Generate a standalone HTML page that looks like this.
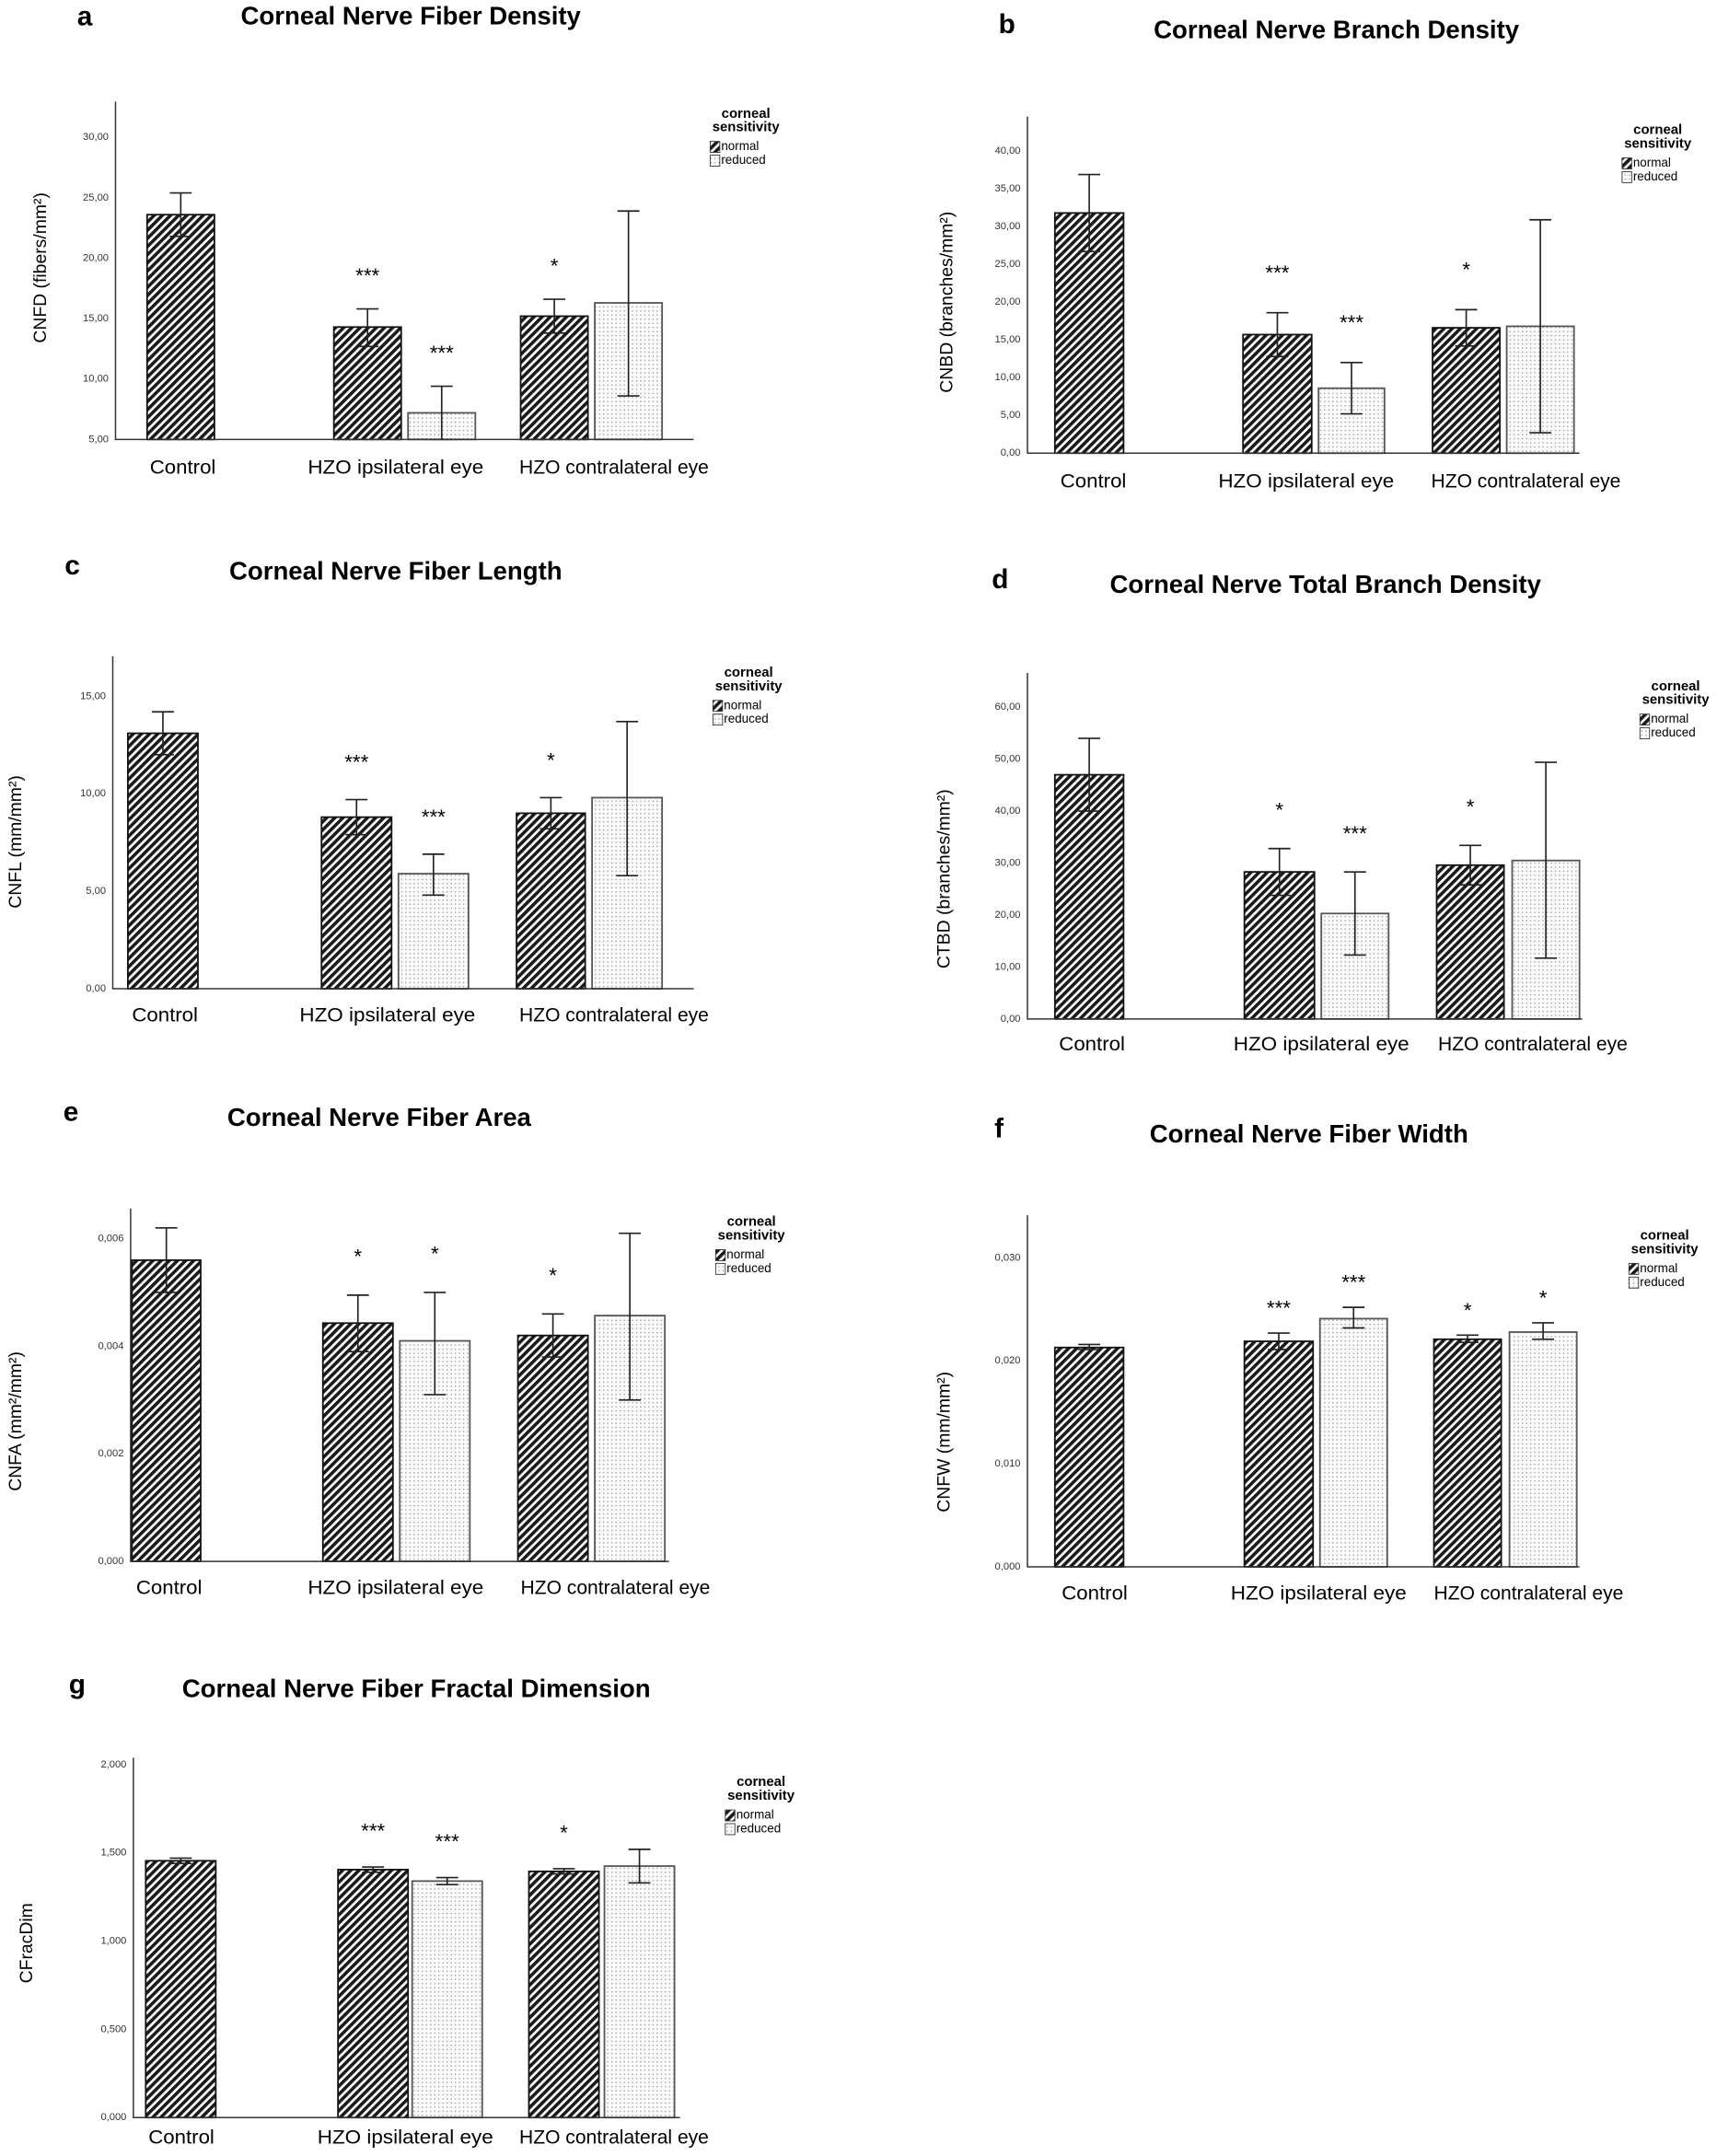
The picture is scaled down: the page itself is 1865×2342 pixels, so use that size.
<!DOCTYPE html>
<html><head><meta charset="utf-8"><style>
html,body{margin:0;padding:0;background:#fff}
svg{display:block}
text{font-family:"Liberation Sans",sans-serif}
</style></head><body>
<svg id="fig" width="1865" height="2342" viewBox="0 0 1250 1570" xmlns="http://www.w3.org/2000/svg">
<defs>
<pattern id="hatch" patternUnits="userSpaceOnUse" width="4.2" height="4.2" patternTransform="rotate(45)">
<rect width="4.2" height="4.2" fill="#fff"/><rect width="2.4" height="4.2" fill="#1a1a1a"/></pattern>
<pattern id="dots" patternUnits="userSpaceOnUse" width="3" height="3">
<rect width="3" height="3" fill="#fbfbfb"/><rect x="1" y="1" width="0.9" height="0.9" fill="#999"/></pattern>
</defs>
</svg>
<script>
const panelLetters=["a","b","c","d","e","f","g"];
const panelTitles=["Corneal Nerve Fiber Density","Corneal Nerve Branch Density","Corneal Nerve Fiber Length","Corneal Nerve Total Branch Density","Corneal Nerve Fiber Area","Corneal Nerve Fiber Width","Corneal Nerve Fiber Fractal Dimension"];
const yTitles=["CNFD (fibers/mm²)","CNBD (branches/mm²)","CNFL (mm/mm²)","CTBD (branches/mm²)","CNFA (mm²/mm²)","CNFW (mm/mm²)","CFracDim"];
const categories=["Control","HZO ipsilateral eye","HZO contralateral eye"];
const seriesNames=["normal","reduced"];
const meanA=[23.6,14.3,7.2,15.2,16.3], hiA=[25.4,15.8,9.4,16.6,23.9], loA=[21.8,12.7,5.0,13.8,8.6];
const meanB=[31.8,15.7,8.6,16.6,16.8], hiB=[36.9,18.6,12.0,19.0,30.9], loB=[26.7,12.8,5.2,14.2,2.7];
const meanC=[13.1,8.8,5.9,9.0,9.8], hiC=[14.2,9.7,6.9,9.8,13.7], loC=[12.0,7.9,4.8,8.2,5.8];
const meanD=[47.0,28.3,20.3,29.6,30.5], hiD=[54.0,32.8,28.3,33.4,49.4], loD=[40.0,23.8,12.3,25.8,11.7];
const meanE=[0.0056,0.00443,0.0041,0.0042,0.00457], hiE=[0.0062,0.00495,0.0050,0.0046,0.0061], loE=[0.0050,0.0039,0.0031,0.0038,0.0030];
const meanF=[0.0213,0.0219,0.0241,0.0221,0.0228], hiF=[0.0216,0.0227,0.0252,0.0225,0.0237], loF=[0.0211,0.0211,0.0232,0.0218,0.0221];
const meanG=[1.455,1.405,1.34,1.395,1.425], hiG=[1.47,1.42,1.36,1.41,1.52], loG=[1.44,1.39,1.32,1.38,1.33];
const starsA=["","***","***","*",""], starsB=["","***","***","*",""], starsC=["","***","***","*",""], starsD=["","*","***","*",""];
const starsE=["","*","*","*",""], starsF=["","***","***","*","*"], starsG=["","***","***","*",""];
const ticksA=[5,10,15,20,25,30], ticksB=[0,5,10,15,20,25,30,35,40], ticksC=[0,5,10,15], ticksD=[0,10,20,30,40,50,60];
const ticksE=[0,0.002,0.004,0.006], ticksF=[0,0.01,0.02,0.03], ticksG=[0,0.5,1,1.5,2];
const decimals=[2,2,2,2,3,3,3];
const means=[meanA,meanB,meanC,meanD,meanE,meanF,meanG];
const his=[hiA,hiB,hiC,hiD,hiE,hiF,hiG];
const los=[loA,loB,loC,loD,loE,loF,loG];
const stars=[starsA,starsB,starsC,starsD,starsE,starsF,starsG];
const ticks=[ticksA,ticksB,ticksC,ticksD,ticksE,ticksF,ticksG];

const L=[
 {ax:84,top:74,base:320,xend:505,t0:100,bars:[[107,156],[243,292],[297,346],[379,428],[433,482]],lab:341,leg:[511,83],tt:[299,13],lt:[56,13],yt:[30,195],so:23,cat:[133,288,447]},
 {ax:748,top:85,base:330,xend:1150,t0:110,bars:[[768,818],[905,955],[960,1008],[1043,1092],[1097,1146]],lab:351,leg:[1175,95],tt:[973,23],lt:[727,19],yt:[690,220],so:28,cat:[796,951,1111]},
 {ax:82,top:478,base:720,xend:505,t0:507,bars:[[93,144],[234,285],[290,341],[376,426],[431,482]],lab:740,leg:[513,490],tt:[288,417],lt:[47,413],yt:[12,613],so:26,cat:[120,282,447]},
 {ax:748,top:490,base:742,xend:1152,t0:515,bars:[[768,818],[906,957],[962,1011],[1046,1095],[1101,1150]],lab:761,leg:[1188,500],tt:[965,427],lt:[722,423],yt:[688,640],so:27,cat:[795,962,1116]},
 {ax:95,top:880,base:1137,xend:487,t0:902,bars:[[96,146],[235,286],[291,342],[377,428],[433,484]],lab:1157,leg:[515,890],tt:[276,815],lt:[46,811],yt:[12,1035],so:27,cat:[123,288,448]},
 {ax:748,top:885,base:1141,xend:1150,t0:916,bars:[[768,818],[906,956],[961,1010],[1044,1093],[1099,1148]],lab:1161,leg:[1180,900],tt:[953,827],lt:[724,823],yt:[688,1050],so:17,cat:[797,960,1113]},
 {ax:97,top:1280,base:1542,xend:495,t0:1285,bars:[[106,157],[246,297],[300,351],[385,436],[440,491]],lab:1557,leg:[522,1298],tt:[303,1231],lt:[50,1228],yt:[20,1415],so:25,cat:[132,295,447]}
];
const NS="http://www.w3.org/2000/svg";
const svg=document.getElementById('fig');
function mk(tag,attrs,parent,txt){const e=document.createElementNS(NS,tag);for(const k in attrs)e.setAttribute(k,attrs[k]);if(txt!==undefined)e.textContent=txt;parent.appendChild(e);return e;}
function fmt(v,d){return v.toFixed(d).replace('.',',');}

for(let p=0;p<7;p++){
 const c=L[p];
 const g=mk('g',{},svg);
 
 
 const tk=ticks[p], tmin=tk[0], tmax=tk[tk.length-1];
 const y=v=>c.base-(v-tmin)/(tmax-tmin)*(c.base-c.t0);
 let t=mk('text',{x:c.lt[0],y:c.lt[1],'font-size':20,'font-weight':'bold','dominant-baseline':'middle'},g,panelLetters[p]);
 
 t=mk('text',{x:c.tt[0],y:c.tt[1],'font-size':18.5,'font-weight':'bold','text-anchor':'middle','dominant-baseline':'middle'},g,panelTitles[p]);
 
 t=mk('text',{x:c.yt[0],y:c.yt[1],'font-size':13,'text-anchor':'middle','dominant-baseline':'middle',transform:`rotate(-90 ${c.yt[0]} ${c.yt[1]})`},g,yTitles[p]);
 
 tk.forEach(v=>{
  const tl=mk('text',{x:c.ax-5,y:y(v),'font-size':7.5,'text-anchor':'end','dominant-baseline':'middle',fill:'#333'},g,fmt(v,decimals[p]));
  
 });
 const m=means[p],h=his[p],lo=los[p],s=stars[p];
 for(let i=0;i<5;i++){
  const [x0,x1]=c.bars[i];const red=(i===2||i===4);
  const r=mk('rect',{x:x0,y:y(m[i]),width:x1-x0,height:c.base-y(m[i]),fill:red?'url(#dots)':'url(#hatch)',stroke:red?'#555':'#111','stroke-width':1.2},g);
  
  const cx=(x0+x1)/2;
  const e=mk('path',{d:`M${cx-8},${y(h[i])}H${cx+8}M${cx},${y(h[i])}V${y(lo[i])}M${cx-8},${y(lo[i])}H${cx+8}`,stroke:'#222','stroke-width':1.1,fill:'none'},g);
  
  if(s[i]){const st=mk('text',{x:cx,y:y(h[i])-c.so,'font-size':15,'text-anchor':'middle','dominant-baseline':'middle'},g,s[i]);
   }
 }
 const ax=mk('path',{d:`M${c.ax},${c.top}V${c.base}H${c.xend}`,stroke:'#333','stroke-width':1,fill:'none'},g);
 
 const widths=[48,128,138];
 categories.forEach((n,i)=>{
  const cl=mk('text',{x:c.cat[i],y:c.lab,'font-size':14.5,'text-anchor':'middle','dominant-baseline':'middle',textLength:widths[i],lengthAdjust:'spacingAndGlyphs'},g,n);
  
 });
 const lg=mk('g',{},g);
 
 const [lx,ly]=c.leg;
 mk('text',{x:lx+32,y:ly,'font-size':10,'font-weight':'bold','text-anchor':'middle','dominant-baseline':'middle'},lg,'corneal');
 mk('text',{x:lx+32,y:ly+10,'font-size':10,'font-weight':'bold','text-anchor':'middle','dominant-baseline':'middle'},lg,'sensitivity');
 seriesNames.forEach((n,i)=>{
  const yy=ly+24+i*10;
  const le=mk('g',{},lg);
  
  mk('rect',{x:lx+6,y:yy-4,width:7,height:8,fill:i?'url(#dots)':'url(#hatch)',stroke:'#333','stroke-width':0.6},le);
  mk('text',{x:lx+14,y:yy,'font-size':9,'dominant-baseline':'middle'},le,n);
 });
}
</script>
</body></html>
